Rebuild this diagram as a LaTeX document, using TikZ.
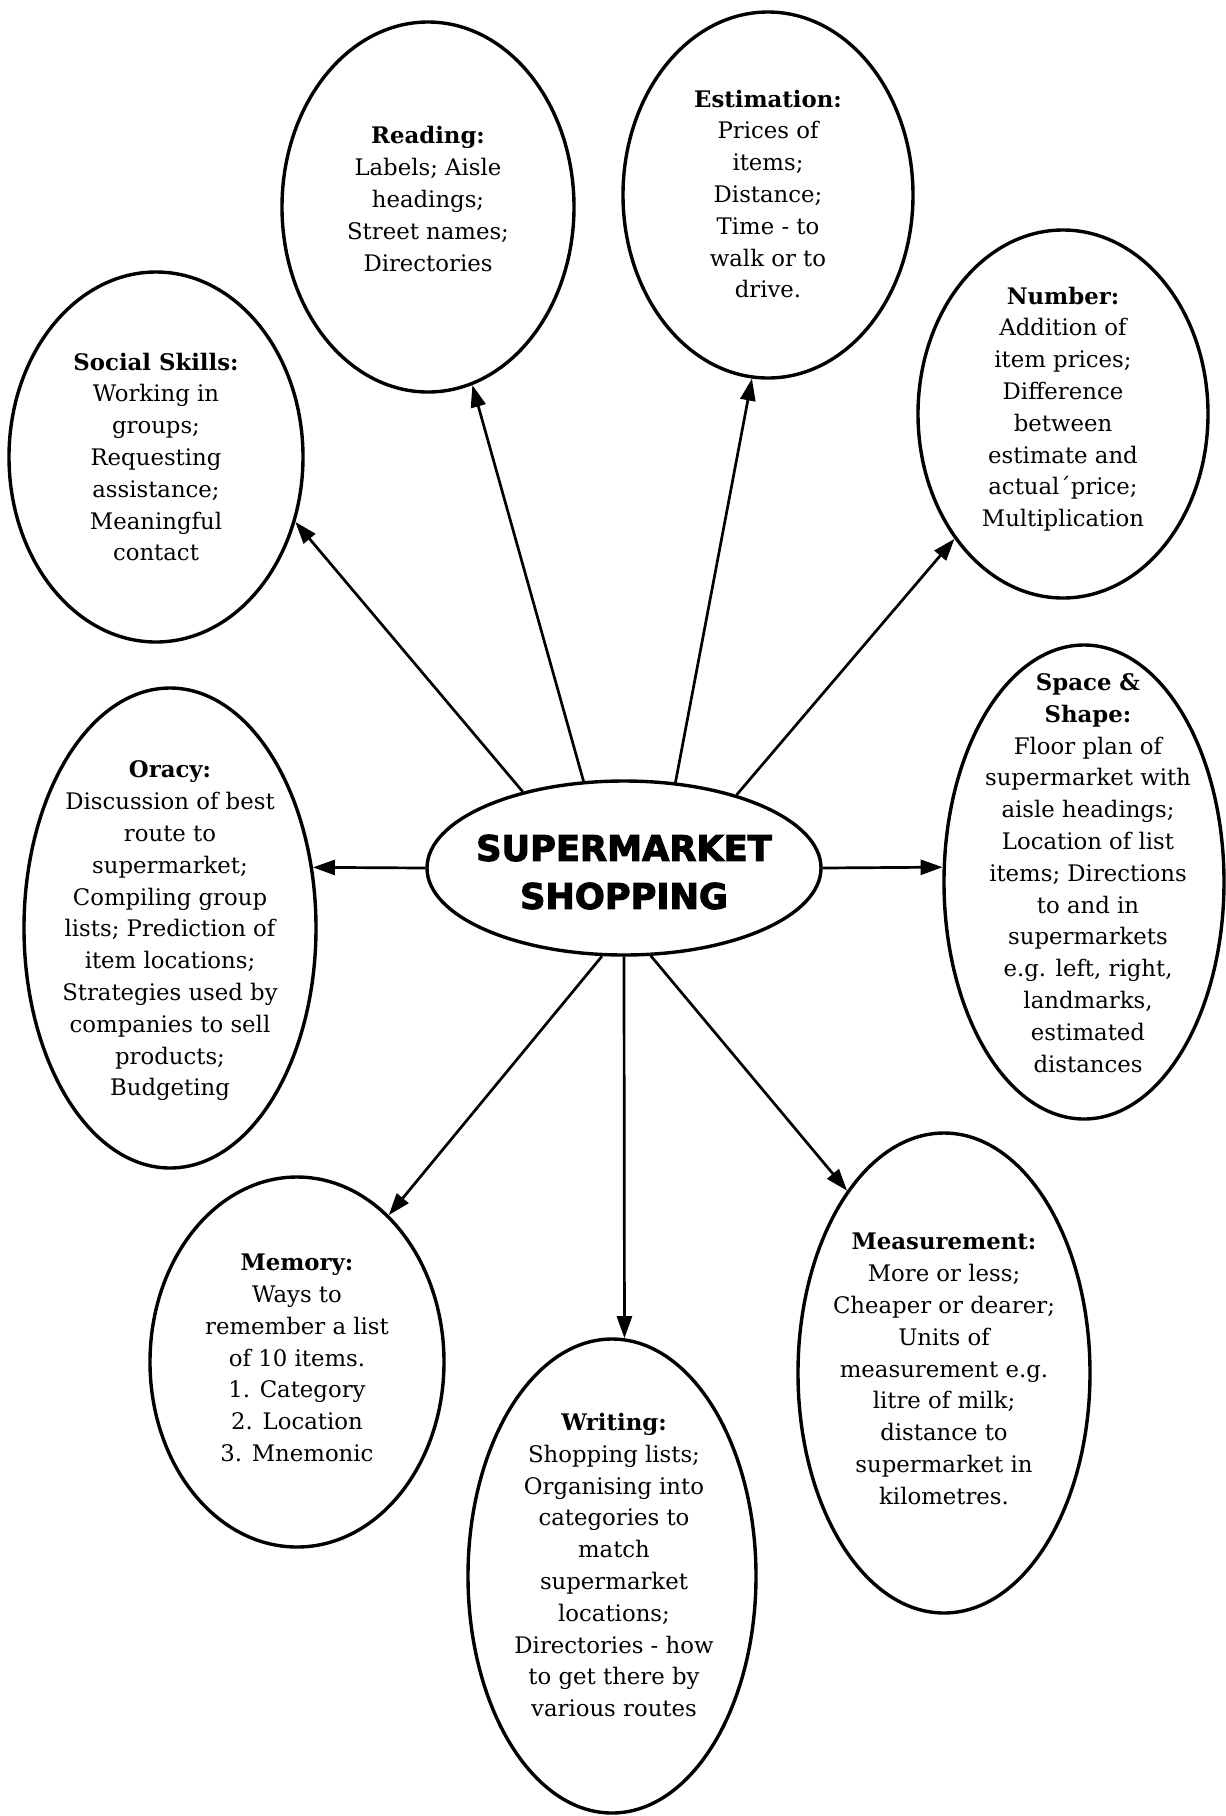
\documentclass[tikz,border=0pt]{standalone}
\usepackage{fontspec}
\setmainfont{DejaVu Serif}
\newfontfamily\titlefont{DejaVu Sans}[BoldFeatures={FakeBold=3}]
\usetikzlibrary{shapes.geometric,arrows.meta}

\begin{document}
\begin{tikzpicture}[x=0.5pt,y=-0.5pt,
  bubble/.style 2 args={draw,ellipse,line width=1.7pt,inner sep=0pt,
    minimum width=#1,minimum height=#2},
  txt/.style={align=center,inner sep=0pt,
    font=\fontsize{11.4}{15.9}\selectfont},
  link/.style={-{Triangle[length=11pt,width=7.5pt]},line width=1.35pt}]

% page
\fill[white] (0,0) rectangle (1226,1816);
\useasboundingbox (0,0) rectangle (1226,1816);

% outlines (sizes are half-axes in pt)
\node[bubble={197pt}{87pt}]  (hub)   at (624,868)  {};
\node[bubble={147pt}{185pt}] (soc)   at (156,457)  {};
\node[bubble={146pt}{185pt}] (read)  at (428,207)  {};
\node[bubble={145pt}{183pt}] (est)   at (768,195)  {};
\node[bubble={145pt}{184pt}] (num)   at (1063,414) {};
\node[bubble={146pt}{240pt}] (orac)  at (170,928)  {};
\node[bubble={140pt}{237pt}] (space) at (1084,882) {};
\node[bubble={147pt}{185pt}] (mem)   at (297,1362) {};
\node[bubble={144pt}{237pt}] (writ)  at (612,1576) {};
\node[bubble={146pt}{240pt}] (meas)  at (944,1373) {};

% texts
\node[align=center,inner sep=0pt,
  font=\titlefont\bfseries\fontsize{17.6}{24}\selectfont] (hubt) at (624,872)
  {SUPERMARKET\\SHOPPING};

\node[txt] (soct) at (156,457)
  {\textbf{Social Skills:}\\Working in\\groups;\\Requesting\\assistance;\\Meaningful\\contact};
\node[txt] (readt) at (428,199)
  {\textbf{Reading:}\\Labels; Aisle\\headings;\\Street names;\\Directories};
\node[txt] (estt) at (768,194)
  {\textbf{Estimation:}\\Prices of\\items;\\Distance;\\Time - to\\walk or to\\drive.};
\node[txt] (numt) at (1063,409)
  {\textbf{Number:}\\Addition of\\item prices;\\Difference\\between\\estimate and\\actual´price;\\Multiplication};
\node[txt] (oract) at (170,931)
  {\textbf{Oracy:}\\Discussion of best\\route to\\supermarket;\\Compiling group\\lists; Prediction of\\item locations;\\Strategies used by\\companies to sell\\products;\\Budgeting};
\node[txt] (spacet) at (1088,873)
  {\textbf{Space \&}\\\textbf{Shape:}\\Floor plan of\\supermarket with\\aisle headings;\\Location of list\\items; Directions\\to and in\\supermarkets\\e.g. left, right,\\landmarks,\\estimated\\distances};
\node[txt] (memt) at (297,1358)
  {\textbf{Memory:}\\Ways to\\remember a list\\of 10 items.\\1. Category\\2. Location\\3. Mnemonic};
\node[txt] (writt) at (614,1565)
  {\textbf{Writing:}\\Shopping lists;\\Organising into\\categories to\\match\\supermarket\\locations;\\Directories - how\\to get there by\\various routes};
\node[txt] (meast) at (944,1369)
  {\textbf{Measurement:}\\More or less;\\Cheaper or dearer;\\Units of\\measurement e.g.\\litre of milk;\\distance to\\supermarket in\\kilometres.};

% connectors from the hub
\draw[link] (hub.143.3) -- (soc.335.9);
\draw[link] (hub.115.5) -- (read.284.7);
\draw[link] (hub.59.8)  -- (est.265.1);
\draw[link] (hub.33.1)  -- (num.229.7);
\draw[link] (hub.180)   -- (orac.23);
\draw[link] (hub.0)     -- (space.174.3);
\draw[link] (hub.256.3) -- (mem.58.7);
\draw[link] (hub.270)   -- (writ.87.1);
\draw[link] (hub.287.3) -- (meas.118.8);
\end{tikzpicture}
\end{document}
